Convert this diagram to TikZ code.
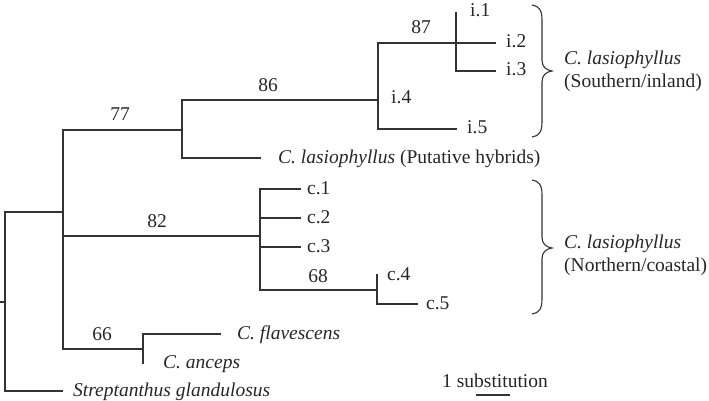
\documentclass[tikz,border=0pt]{standalone}
\usepackage{fontspec}
\setmainfont{Liberation Serif}
\begin{document}
\begin{tikzpicture}[x=1pt,y=-1pt,
  br/.style={draw=black!80, line width=1.2pt, line cap=rect},
  bracestyle/.style={draw=black!80, line width=1.1pt},
  lab/.style={anchor=base west, inner sep=0pt, font=\fontsize{19.5}{23}\selectfont, text=black!85},
  sup/.style={anchor=base, inner sep=0pt, font=\fontsize{19.5}{23}\selectfont, text=black!85}]
\useasboundingbox (0,0) rectangle (709,401);
% tree coordinates
\coordinate (r0) at (0,302);
\coordinate (r) at (5,302);
\coordinate (rt) at (5,212);
\coordinate (rb) at (5,391);
\coordinate (sge) at (62,391);
\coordinate (a) at (63,212);
\coordinate (at) at (63,130);
\coordinate (ab) at (63,349);
\coordinate (am) at (63,236);
\coordinate (b) at (182,130);
\coordinate (bt) at (182,100);
\coordinate (bb) at (182,158);
\coordinate (phe) at (260,158);
\coordinate (c) at (378,100);
\coordinate (ct) at (378,43);
\coordinate (cb) at (378,129);
\coordinate (i5e) at (456,129);
\coordinate (d) at (456,43);
\coordinate (dt) at (456,13);
\coordinate (db) at (456,71);
\coordinate (i2e) at (495,43);
\coordinate (i3e) at (495,71);
\coordinate (e) at (260,236);
\coordinate (et) at (260,189);
\coordinate (e2) at (260,218);
\coordinate (e3) at (260,247);
\coordinate (eb) at (260,290);
\coordinate (c1e) at (300,189);
\coordinate (c2e) at (300,218);
\coordinate (c3e) at (300,247);
\coordinate (f) at (377,290);
\coordinate (ft) at (377,275);
\coordinate (fb) at (377,304);
\coordinate (c5e) at (417,304);
\coordinate (g) at (143,349);
\coordinate (gt) at (143,334);
\coordinate (gb) at (143,363);
\coordinate (cfe) at (220,334);
\coordinate (sb1) at (477,395);
\coordinate (sb2) at (509,395);
% branches
\draw[br] (r0) -- (r);
\draw[br] (rt) -- (rb);
\draw[br] (rt) -- (a);
\draw[br] (rb) -- (sge);
\draw[br] (at) -- (ab);
\draw[br] (at) -- (b);
\draw[br] (bt) -- (bb);
\draw[br] (bb) -- (phe);
\draw[br] (bt) -- (c);
\draw[br] (ct) -- (cb);
\draw[br] (cb) -- (i5e);
\draw[br] (ct) -- (d);
\draw[br] (dt) -- (db);
\draw[br] (d) -- (i2e);
\draw[br] (db) -- (i3e);
\draw[br] (am) -- (e);
\draw[br] (et) -- (eb);
\draw[br] (et) -- (c1e);
\draw[br] (e2) -- (c2e);
\draw[br] (e3) -- (c3e);
\draw[br] (eb) -- (f);
\draw[br] (ft) -- (fb);
\draw[br] (fb) -- (c5e);
\draw[br] (ab) -- (g);
\draw[br] (gt) -- (gb);
\draw[br] (gt) -- (cfe);
\draw[br] (sb1) -- (sb2);
% braces
\draw[bracestyle] (532,5) .. controls (539,6) and (542,10) .. (542,20) -- (542,60)
  .. controls (542,67) and (546,70) .. (552,71) .. controls (546,72) and (542,75) .. (542,82)
  -- (542,122) .. controls (542,132) and (539,136) .. (532,137);
\draw[bracestyle] (532,180) .. controls (539,181) and (542,185) .. (542,195) -- (542,237)
  .. controls (542,244) and (546,247) .. (552,248) .. controls (546,249) and (542,252) .. (542,259)
  -- (542,299) .. controls (542,309) and (539,313) .. (532,314);
% leaf labels
\node[lab] (li1) at (470,17) {i.1};
\node[lab] (li2) at (506,48) {i.2};
\node[lab] (li3) at (506,76) {i.3};
\node[lab] (li4) at (391,104) {i.4};
\node[lab] (li5) at (467,134) {i.5};
\node[lab] (lph) at (278,163) {\textit{C. lasiophyllus} (Putative hybrids)};
\node[lab] (lc1) at (307,194) {c.1};
\node[lab] (lc2) at (307,223) {c.2};
\node[lab] (lc3) at (307,252) {c.3};
\node[lab] (lc4) at (387,280) {c.4};
\node[lab] (lc5) at (426,309) {c.5};
\node[lab] (lcf) at (237,339) {\textit{C. flavescens}};
\node[lab] (lca) at (163,368) {\textit{C. anceps}};
\node[lab] (lsg) at (73,396) {\textit{Streptanthus glandulosus}};
% group labels
\node[lab] (gs1) at (564,65) {\textit{C. lasiophyllus}};
\node[lab] (gs2) at (564,88) {(Southern/inland)};
\node[lab] (gn1) at (564,248) {\textit{C. lasiophyllus}};
\node[lab] (gn2) at (564,271) {(Northern/coastal)};
% support values
\node[sup] (s77) at (120,121) {77};
\node[sup] (s86) at (268,92) {86};
\node[sup] (s87) at (421,34) {87};
\node[sup] (s82) at (157,227) {82};
\node[sup] (s68) at (318,282) {68};
\node[sup] (s66) at (102,340) {66};
% scale
\node[lab] (scl) at (442,387) {1 substitution};
\end{tikzpicture}
\end{document}
